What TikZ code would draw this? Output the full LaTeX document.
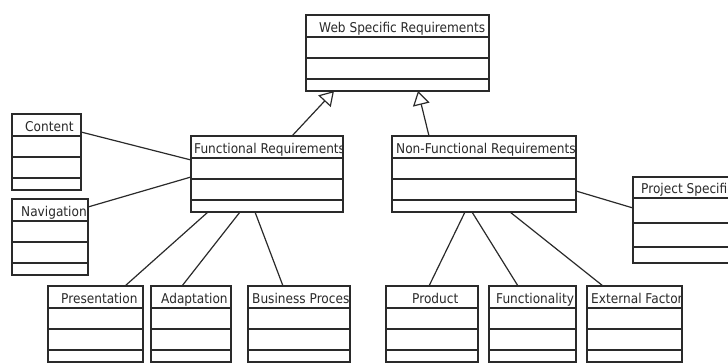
\documentclass[tikz,border=0pt]{standalone}
\usepackage{fontspec}
\setmainfont{DejaVu Sans}[FakeStretch=0.9]
\usetikzlibrary{calc,arrows.meta}
\definecolor{ink}{HTML}{2A2A2A}
\tikzset{
  cls/.style={draw=ink, line width=1.2pt, inner sep=0pt, outer sep=0pt, anchor=north west, fill=white},
  cmp/.style={draw=ink, line width=1.2pt},
  lbl/.style={anchor=base west, inner sep=0pt, text=ink, font=\fontsize{13.5}{15}\selectfont},
  assoc/.style={draw=ink, line width=1.2pt},
  gen/.style={draw=ink, line width=1.2pt, -{Triangle[open, length=14pt, width=17pt]}}
}
% name, x, y, width, text, text offset
\newcommand\umlcls[6]{%
  \node[cls, minimum width=#4pt, minimum height=76pt] (#1) at (#2,#3) {};
  \draw[cmp] ($(#1.north west)+(0,22)$) -- ($(#1.north east)+(0,22)$);
  \draw[cmp] ($(#1.north west)+(0,43)$) -- ($(#1.north east)+(0,43)$);
  \draw[cmp] ($(#1.north west)+(0,64)$) -- ($(#1.north east)+(0,64)$);
  \begin{scope}
    \clip (#1.north west) rectangle (#1.south east);
    \node[lbl] (#1-t) at ($(#1.north west)+(#6,18)$) {#5};
  \end{scope}
}
\begin{document}
\begin{tikzpicture}[x=1pt, y=-1pt]
\useasboundingbox (0,0) rectangle (728,363);
\clip (0,0) rectangle (728,363);

\umlcls{web}{306}{15}{183}{Web Specific Requirements}{13}
\umlcls{content}{12}{114}{69}{Content}{13}
\umlcls{nav}{12}{199}{76}{Navigation}{9}
\umlcls{fr}{191}{136}{152}{Functional Requirements}{3}
\umlcls{nfr}{392}{136}{184}{Non-Functional Requirements}{4}
\umlcls{pres}{48}{286}{95}{Presentation}{13}
\umlcls{adapt}{151}{286}{80}{Adaptation}{10}
\umlcls{bp}{248}{286}{102}{Business Process}{4}
\umlcls{prod}{386}{286}{92}{Product}{26}
\umlcls{func}{489}{286}{87}{Functionality}{7}
\umlcls{ext}{587}{286}{95}{External Factors}{4}

% Project Specific (different compartment heights)
\node[cls, minimum width=130pt, minimum height=86pt] (ps) at (633,177) {};
\draw[cmp] ($(ps.north west)+(0,21)$) -- ($(ps.north east)+(0,21)$);
\draw[cmp] ($(ps.north west)+(0,46)$) -- ($(ps.north east)+(0,46)$);
\draw[cmp] ($(ps.north west)+(0,70)$) -- ($(ps.north east)+(0,70)$);
\node[lbl] (ps-t) at ($(ps.north west)+(8,17)$) {Project Specific};

% generalisations
\draw[gen] ($(fr.north west)+(101,0)$) -- ($(web.south west)+(28,0)$);
\draw[gen] ($(nfr.north west)+(37,0)$) -- ($(web.south west)+(112,0)$);

% associations
\draw[assoc] ($(content.north east)+(0,18)$) -- ($(fr.north west)+(0,24)$);
\draw[assoc] ($(nav.north east)+(0,8)$) -- ($(fr.north west)+(0,41)$);
\draw[assoc] ($(fr.south west)+(17,0)$) -- ($(pres.north west)+(77,0)$);
\draw[assoc] ($(fr.south west)+(49,0)$) -- ($(adapt.north west)+(31,0)$);
\draw[assoc] ($(fr.south west)+(64,0)$) -- ($(bp.north west)+(35,0)$);
\draw[assoc] ($(nfr.north east)+(0,55)$) -- ($(ps.north west)+(0,31)$);
\draw[assoc] ($(nfr.south west)+(73,0)$) -- ($(prod.north west)+(43,0)$);
\draw[assoc] ($(nfr.south west)+(80,0)$) -- ($(func.north west)+(29,0)$);
\draw[assoc] ($(nfr.south west)+(118,0)$) -- ($(ext.north west)+(16,0)$);
\end{tikzpicture}
\end{document}
